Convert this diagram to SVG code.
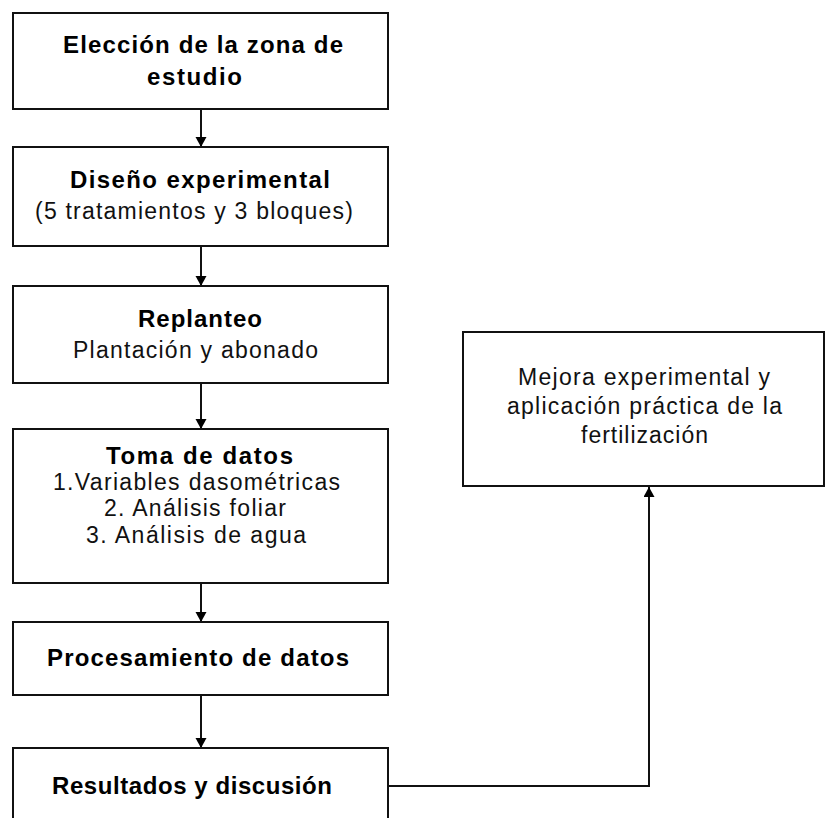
<svg xmlns="http://www.w3.org/2000/svg" width="826" height="818" viewBox="0 0 826 818">
<style>
.box{fill:#fff;stroke:#111;stroke-width:2}
.b{font-family:"Liberation Sans",Arial,sans-serif;font-size:24px;font-weight:bold;fill:#000}
.r{font-family:"Liberation Sans",Arial,sans-serif;font-size:23px;fill:#111}
.c{fill:none;stroke:#111;stroke-width:2}
</style>
<defs>
<marker id="ah" markerUnits="userSpaceOnUse" markerWidth="12" markerHeight="12" refX="10" refY="5.5" orient="auto">
<path d="M0,0 L10,5.5 L0,11 z" fill="#000"/>
</marker>
</defs>
<rect width="826" height="818" fill="#fff"/>
<g id="connectors">
<path class="c" d="M201,109 V147" marker-end="url(#ah)"/>
<path class="c" d="M201,246 V286" marker-end="url(#ah)"/>
<path class="c" d="M201,383 V429" marker-end="url(#ah)"/>
<path class="c" d="M201,583 V622" marker-end="url(#ah)"/>
<path class="c" d="M201,695 V748" marker-end="url(#ah)"/>
<path class="c" d="M388,786 H649 V487" marker-end="url(#ah)"/>
</g>
<g id="n1">
<rect class="box" x="13" y="13" width="375" height="96"/>
<text class="b" x="63" y="53" textLength="280" lengthAdjust="spacing">Elección de la zona de</text>
<text class="b" x="147" y="85" textLength="95" lengthAdjust="spacing">estudio</text>
</g>
<g id="n2">
<rect class="box" x="13" y="147" width="375" height="99"/>
<text class="b" x="70" y="188" textLength="260" lengthAdjust="spacing">Diseño experimental</text>
<text class="r" x="35" y="219" textLength="318" lengthAdjust="spacing">(5 tratamientos y 3 bloques)</text>
</g>
<g id="n3">
<rect class="box" x="13" y="286" width="375" height="97"/>
<text class="b" x="138" y="327" textLength="124" lengthAdjust="spacing">Replanteo</text>
<text class="r" x="73" y="358" textLength="245" lengthAdjust="spacing">Plantación y abonado</text>
</g>
<g id="n4">
<rect class="box" x="13" y="429" width="375" height="154"/>
<text class="b" x="106" y="464" textLength="187" lengthAdjust="spacing">Toma de datos</text>
<text class="r" x="53" y="490" textLength="287" lengthAdjust="spacing">1.Variables dasométricas</text>
<text class="r" x="104" y="516" textLength="182" lengthAdjust="spacing">2. Análisis foliar</text>
<text class="r" x="86" y="543" textLength="220" lengthAdjust="spacing">3. Análisis de agua</text>
</g>
<g id="n5">
<rect class="box" x="13" y="622" width="375" height="73"/>
<text class="b" x="47" y="666" textLength="302" lengthAdjust="spacing">Procesamiento de datos</text>
</g>
<g id="n6">
<rect class="box" x="13" y="748" width="375" height="100"/>
<text class="b" x="52" y="794" textLength="280" lengthAdjust="spacing">Resultados y discusión</text>
</g>
<g id="n7">
<rect class="box" x="463" y="332" width="361" height="154"/>
<text class="r" x="518" y="385" textLength="252" lengthAdjust="spacing">Mejora experimental y</text>
<text class="r" x="507" y="414" textLength="275" lengthAdjust="spacing">aplicación práctica de la</text>
<text class="r" x="581" y="443" textLength="127" lengthAdjust="spacing">fertilización</text>
</g>
</svg>
